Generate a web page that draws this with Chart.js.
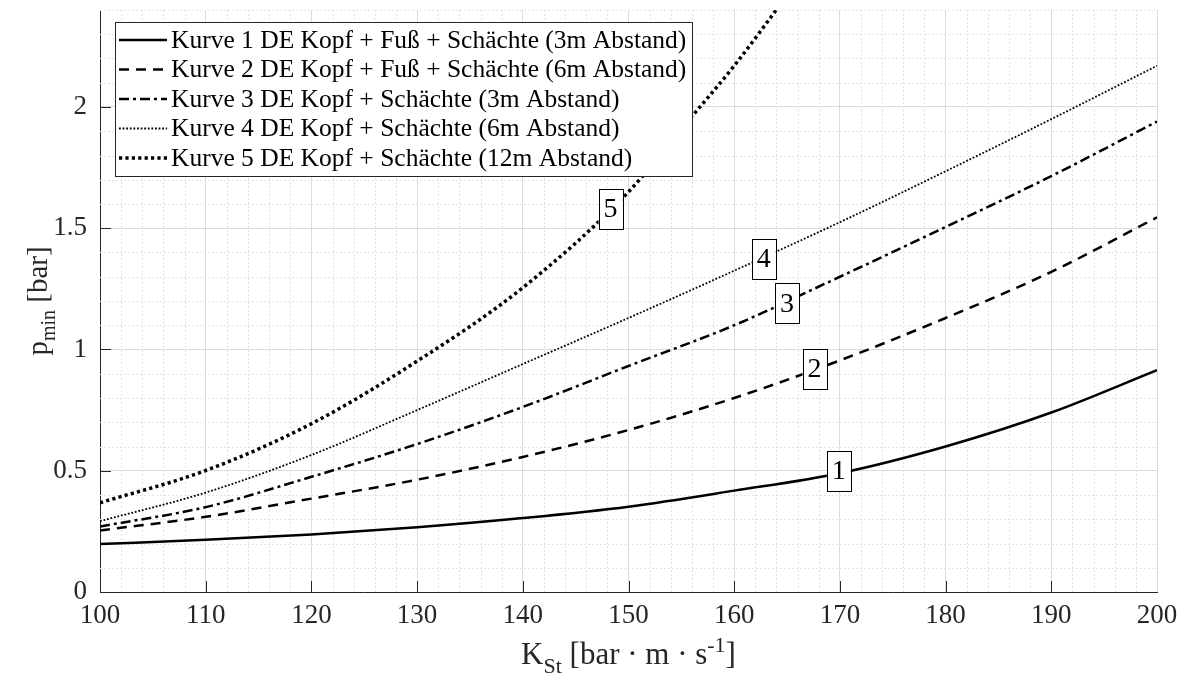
<!DOCTYPE html>
<html>
<head>
<meta charset="utf-8">
<script src="https://cdn.jsdelivr.net/npm/chart.js@4/dist/chart.umd.min.js"></script>
<style>
  html, body { margin: 0; padding: 0; background: #fff; }
  #wrap { width: 1186px; height: 688px; }
</style>
</head>
<body>
<div id="wrap"><canvas id="pminChart"></canvas></div>
<script>
// K_St values (bar·m/s) and p_min (bar) for the five arrangements
const kSt = [100, 110, 120, 130, 140, 150, 160, 170, 180, 190, 200];
const kurve1 = [0.198, 0.215, 0.237, 0.267, 0.305, 0.352, 0.418, 0.490, 0.600, 0.740, 0.915];
const kurve2 = [0.254, 0.310, 0.385, 0.463, 0.557, 0.668, 0.800, 0.955, 1.130, 1.320, 1.545];
const kurve3 = [0.270, 0.350, 0.475, 0.610, 0.763, 0.932, 1.100, 1.300, 1.505, 1.715, 1.940];
const kurve4 = [0.292, 0.410, 0.565, 0.750, 0.940, 1.130, 1.325, 1.525, 1.735, 1.950, 2.170];
const kSt5 = [100, 110, 120, 130, 140, 150, 155, 160, 165];
const kurve5 = [0.368, 0.501, 0.694, 0.952, 1.255, 1.650, 1.910, 2.170, 2.460];

const legendTexts = [
  'Kurve 1 DE Kopf + Fuß + Schächte (3m Abstand)',
  'Kurve 2 DE Kopf + Fuß + Schächte (6m Abstand)',
  'Kurve 3 DE Kopf + Schächte (3m Abstand)',
  'Kurve 4 DE Kopf + Schächte (6m Abstand)',
  'Kurve 5 DE Kopf + Schächte (12m Abstand)'
];

// in-plot curve tags: K_St, p_min, text
const tagX = [169.9, 167.6, 165.0, 162.8, 148.3];
const tagY = [0.50, 0.92, 1.19, 1.375, 1.58];
const tagText = ['1', '2', '3', '4', '5'];

const SERIF = '"Liberation Serif", "Times New Roman", serif';

const lineStyles = [
  { width: 2.5, dash: [] },
  { width: 2.5, dash: [10, 7] },
  { width: 2.5, dash: [10, 4, 3, 4] },
  { width: 1.8, dash: [1.8, 1.8] },
  { width: 3.5, dash: [3.2, 3.2] }
];

function pts(xs, ys) {
  return xs.map((x, i) => ({ x: x, y: ys[i] }));
}

const seriesData = [
  pts(kSt, kurve1), pts(kSt, kurve2), pts(kSt, kurve3), pts(kSt, kurve4), pts(kSt5, kurve5)
];

const datasets = seriesData.map((d, i) => ({
  label: legendTexts[i],
  data: d,
  borderColor: '#000',
  borderWidth: lineStyles[i].width,
  borderDash: lineStyles[i].dash,
  borderCapStyle: 'butt',
  pointRadius: 0,
  cubicInterpolationMode: 'monotone',
  fill: false
}));

// minor grid, inward ticks, axis titles, legend box, curve tags
const decorations = {
  id: 'decorations',
  beforeDatasetsDraw(chart) {
    const { ctx, chartArea: a, scales: { x, y } } = chart;
    ctx.save();
    ctx.strokeStyle = '#e3e3e3';
    ctx.lineWidth = 1;
    ctx.setLineDash([2, 2]);
    for (let v = 102; v < 200; v += 2) {
      if (v % 10 === 0) continue;
      const px = Math.round(x.getPixelForValue(v)) + 0.5;
      ctx.beginPath(); ctx.moveTo(px, a.top); ctx.lineTo(px, a.bottom); ctx.stroke();
    }
    for (let k = 1; k <= 24; k++) {
      if (k % 5 === 0) continue;
      const py = Math.round(y.getPixelForValue(k / 10)) + 0.5;
      ctx.beginPath(); ctx.moveTo(a.left, py); ctx.lineTo(a.right, py); ctx.stroke();
    }
    ctx.restore();
  },
  afterDraw(chart) {
    const { ctx, chartArea: a, scales: { x, y } } = chart;
    ctx.save();

    // inward ticks
    ctx.strokeStyle = '#262626';
    ctx.lineWidth = 1;
    ctx.setLineDash([]);
    for (let v = 110; v < 200; v += 10) {
      const px = Math.round(x.getPixelForValue(v)) + 0.5;
      ctx.beginPath(); ctx.moveTo(px, a.bottom); ctx.lineTo(px, a.bottom - 11); ctx.stroke();
    }
    for (let v = 0.5; v <= 2.0; v += 0.5) {
      const py = Math.round(y.getPixelForValue(v)) + 0.5;
      ctx.beginPath(); ctx.moveTo(a.left, py); ctx.lineTo(a.left + 11, py); ctx.stroke();
    }

    // curve tags
    ctx.font = '28px ' + SERIF;
    ctx.textAlign = 'center';
    ctx.textBaseline = 'middle';
    tagText.forEach((t, i) => {
      const cx = x.getPixelForValue(tagX[i]);
      const cy = y.getPixelForValue(tagY[i]);
      const w = 24, h = 40;
      ctx.fillStyle = '#fff';
      ctx.fillRect(cx - w / 2, cy - h / 2, w, h);
      ctx.strokeStyle = '#000';
      ctx.lineWidth = 1;
      ctx.strokeRect(Math.round(cx - w / 2) + 0.5, Math.round(cy - h / 2) + 0.5, w, h);
      ctx.fillStyle = '#000';
      ctx.fillText(t, cx, cy + 1);
    });

    // legend
    ctx.font = '25.5px ' + SERIF;
    let maxW = 0;
    legendTexts.forEach(t => { maxW = Math.max(maxW, ctx.measureText(t).width); });
    const lx = 115, ly = 22, lw = Math.round(maxW + 62), lh = 154;
    ctx.fillStyle = '#fff';
    ctx.fillRect(lx, ly, lw, lh);
    ctx.strokeStyle = '#262626';
    ctx.lineWidth = 1;
    ctx.strokeRect(lx + 0.5, ly + 0.5, lw, lh);
    ctx.textAlign = 'left';
    ctx.textBaseline = 'middle';
    legendTexts.forEach((t, i) => {
      const ry = ly + 18 + i * 29.5;
      ctx.strokeStyle = '#000';
      ctx.lineWidth = lineStyles[i].width;
      ctx.setLineDash(lineStyles[i].dash);
      ctx.lineCap = 'butt';
      ctx.beginPath(); ctx.moveTo(lx + 4, ry); ctx.lineTo(lx + 52, ry); ctx.stroke();
      ctx.setLineDash([]);
      ctx.fillStyle = '#000';
      ctx.fillText(t, lx + 56, ry + 1);
    });

    // x axis title: K_St [bar · m · s^-1]
    const big = '31px ' + SERIF, small = '22px ' + SERIF;
    const xParts = [
      { t: 'K', f: big, dy: 0 },
      { t: 'St', f: small, dy: 9 },
      { t: ' [bar · m · s', f: big, dy: 0 },
      { t: '-1', f: small, dy: -12 },
      { t: ']', f: big, dy: 0 }
    ];
    ctx.fillStyle = '#262626';
    ctx.textBaseline = 'alphabetic';
    let total = 0;
    xParts.forEach(p => { ctx.font = p.f; p.w = ctx.measureText(p.t).width; total += p.w; });
    let cx = (a.left + a.right) / 2 - total / 2;
    xParts.forEach(p => { ctx.font = p.f; ctx.fillText(p.t, cx, 664 + p.dy); cx += p.w; });

    // y axis title: p_min [bar]
    const yParts = [
      { t: 'p', f: '29px ' + SERIF, dy: 0 },
      { t: 'min', f: '20px ' + SERIF, dy: 8 },
      { t: ' [bar]', f: '29px ' + SERIF, dy: 0 }
    ];
    total = 0;
    yParts.forEach(p => { ctx.font = p.f; p.w = ctx.measureText(p.t).width; total += p.w; });
    ctx.translate(47, (a.top + a.bottom) / 2);
    ctx.rotate(-Math.PI / 2);
    cx = -total / 2;
    yParts.forEach(p => { ctx.font = p.f; ctx.fillText(p.t, cx, p.dy); cx += p.w; });

    ctx.restore();
  }
};

const ctx = document.getElementById('pminChart').getContext('2d');
const pminChart = new Chart(ctx, {
  type: 'line',
  data: { datasets: datasets },
  options: {
    responsive: true,
    maintainAspectRatio: false,
    animation: false,
    layout: { padding: { top: 10, right: 29, left: 0, bottom: 0 } },
    plugins: {
      legend: { display: false },
      tooltip: { enabled: false }
    },
    scales: {
      x: {
        type: 'linear',
        min: 100,
        max: 200,
        ticks: {
          stepSize: 10,
          padding: 8,
          color: '#262626',
          font: { family: SERIF, size: 27 }
        },
        grid: { color: '#dcdcdc', lineWidth: 1, drawTicks: false },
        border: { color: '#262626', width: 1 },
        afterFit(scale) {
          scale.height = 96;
          scale.paddingLeft = 0;
          scale.paddingRight = 0;
        }
      },
      y: {
        type: 'linear',
        min: 0,
        max: 2.4,
        ticks: {
          stepSize: 0.5,
          includeBounds: false,
          padding: 13,
          color: '#262626',
          font: { family: SERIF, size: 27 },
          callback: v => String(v)
        },
        grid: { color: '#dcdcdc', lineWidth: 1, drawTicks: false },
        border: { color: '#262626', width: 1 },
        afterFit(scale) {
          scale.width = 100;
          scale.paddingTop = 0;
          scale.paddingBottom = 0;
        }
      }
    }
  },
  plugins: [decorations]
});
</script>
</body>
</html>
